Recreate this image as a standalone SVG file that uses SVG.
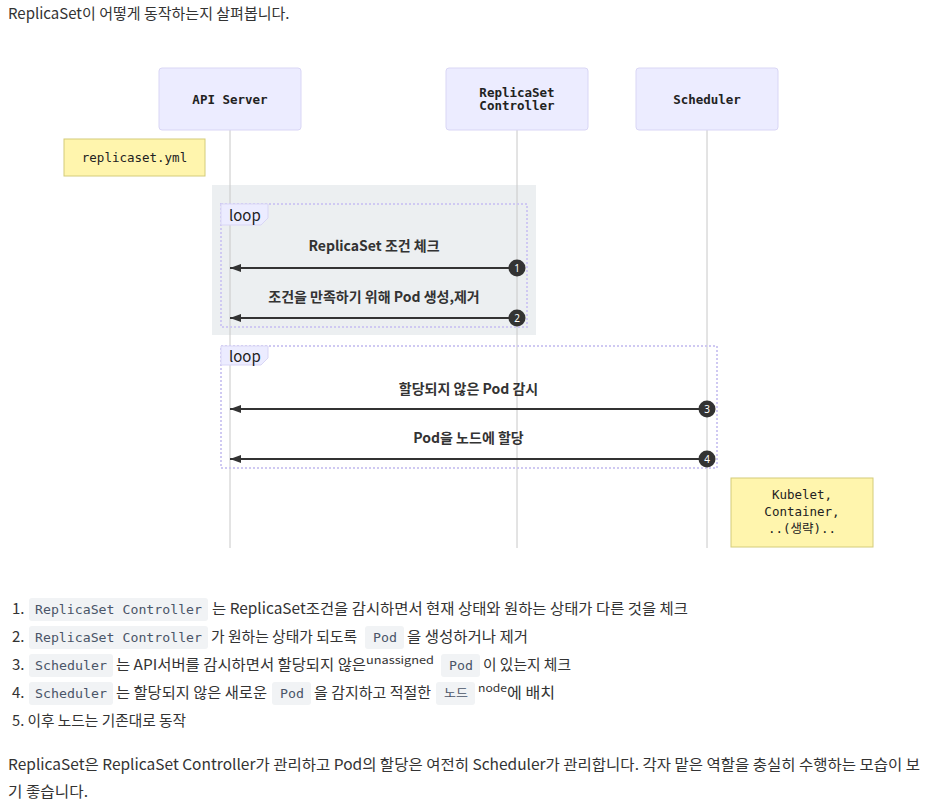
<svg xmlns="http://www.w3.org/2000/svg" width="927" height="807" viewBox="0 0 927 807">
<style>
.body{font-family:"Noto Sans CJK KR","Noto Sans",sans-serif;font-size:15px;fill:#333;}
.sup{font-family:"Noto Sans CJK KR","Noto Sans",sans-serif;font-size:11px;fill:#333;}
.code{font-family:"DejaVu Sans Mono","Noto Sans CJK KR",monospace;font-size:12.5px;fill:#4a5568;}
.cbox{fill:#f1f3f5;}
.actor{fill:#ECECFF;stroke:#d9d6f5;stroke-width:1;}
.atext{font-family:"DejaVu Sans Mono","Liberation Mono",monospace;font-size:12.5px;font-weight:bold;fill:#222;text-anchor:middle;}
.life{stroke:#c8c8c8;stroke-width:1;}
.note{fill:#fff5ad;stroke:#d4cc7a;stroke-width:1;}
.ntext{font-family:"DejaVu Sans Mono","Noto Sans CJK KR",monospace;font-size:12.5px;fill:#222;text-anchor:middle;}
.frame{fill:none;stroke:#cfc9f2;stroke-width:2;stroke-dasharray:2 2;}
.lbl{fill:#ECECFF;stroke:#d9d6f5;stroke-width:1;}
.ltext{font-family:"Noto Sans CJK KR","Noto Sans",sans-serif;font-size:15px;fill:#222;}
.msg{stroke:#333;stroke-width:2;fill:none;}
.mtext{font-family:"Noto Sans CJK KR","Noto Sans",sans-serif;font-size:14px;font-weight:bold;fill:#333;text-anchor:middle;}
.num{fill:#333;}
.ntxt{font-family:"Noto Sans","DejaVu Sans",sans-serif;font-size:10px;fill:#fff;text-anchor:middle;}
</style>
<defs>
<marker id="arr" markerWidth="12" markerHeight="10" refX="11" refY="5" orient="auto" markerUnits="userSpaceOnUse">
<path d="M0,1 L11,5 L0,9 Z" fill="#333"/>
</marker>
</defs>
<rect width="927" height="807" fill="#fff"/>
<text class="body" x="8" y="19">ReplicaSet이 어떻게 동작하는지 살펴봅니다.</text>

<rect x="212" y="185" width="324" height="150" fill="#eceff1"/>

<g id="lifelines">
<line class="life" x1="230" y1="130" x2="230" y2="548"/>
<line class="life" x1="517" y1="130" x2="517" y2="548"/>
<line class="life" x1="707" y1="130" x2="707" y2="548"/>
</g>

<g id="api-server">
<rect class="actor" x="159" y="68" width="142" height="62" rx="3"/>
<text class="atext" x="230" y="104">API Server</text>
</g>
<g id="replicaset-controller">
<rect class="actor" x="446" y="68" width="142" height="62" rx="3"/>
<text class="atext" x="517" y="96.5">ReplicaSet</text>
<text class="atext" x="517" y="110">Controller</text>
</g>
<g id="scheduler">
<rect class="actor" x="636" y="68" width="142" height="62" rx="3"/>
<text class="atext" x="707" y="104">Scheduler</text>
</g>

<g id="note-replicaset">
<rect class="note" x="64" y="139" width="141" height="37"/>
<text class="ntext" x="134.5" y="162">replicaset.yml</text>
</g>

<g id="loop1">
<rect class="frame" x="221" y="204" width="306" height="123"/>
<polygon class="lbl" points="221,204 268,204 268,218 261,225 221,225"/>
<text class="ltext" x="229" y="221">loop</text>
</g>
<g id="loop2">
<rect class="frame" x="221" y="346" width="496" height="122"/>
<polygon class="lbl" points="221,346 268,346 268,358 261,365 221,365"/>
<text class="ltext" x="229" y="362">loop</text>
</g>

<g id="connectors">
<text class="mtext" x="374" y="251">ReplicaSet 조건 체크</text>
<line class="msg" x1="517" y1="268" x2="230" y2="268" marker-end="url(#arr)"/>
<circle class="num" cx="517" cy="268" r="8.5"/>
<text class="ntxt" x="517" y="271.5">1</text>

<text class="mtext" x="374" y="302">조건을 만족하기 위해 Pod 생성,제거</text>
<line class="msg" x1="517" y1="318" x2="230" y2="318" marker-end="url(#arr)"/>
<circle class="num" cx="517" cy="318" r="8.5"/>
<text class="ntxt" x="517" y="321.5">2</text>

<text class="mtext" x="468.5" y="394">할당되지 않은 Pod 감시</text>
<line class="msg" x1="707" y1="409" x2="230" y2="409" marker-end="url(#arr)"/>
<circle class="num" cx="707" cy="409" r="8.5"/>
<text class="ntxt" x="707" y="412.5">3</text>

<text class="mtext" x="468.5" y="443">Pod을 노드에 할당</text>
<line class="msg" x1="707" y1="459" x2="230" y2="459" marker-end="url(#arr)"/>
<circle class="num" cx="707" cy="459" r="8.5"/>
<text class="ntxt" x="707" y="462.5">4</text>
</g>

<g id="note-kubelet">
<rect class="note" x="731" y="478" width="142" height="69"/>
<text class="ntext" x="802" y="499">Kubelet,</text>
<text class="ntext" x="802" y="516">Container,</text>
<text class="ntext" x="802" y="533">..(생략)..</text>
</g>

<g id="list">
<text class="body" x="12" y="614">1.</text>
<rect class="cbox" x="29" y="598" width="179" height="23" rx="3"/>
<text class="code" x="35" y="614" textLength="167" lengthAdjust="spacingAndGlyphs">ReplicaSet Controller</text>
<text class="body" x="212" y="614" textLength="476" lengthAdjust="spacingAndGlyphs">는 ReplicaSet조건을 감시하면서 현재 상태와 원하는 상태가 다른 것을 체크</text>

<text class="body" x="12" y="642">2.</text>
<rect class="cbox" x="29" y="626" width="179" height="23" rx="3"/>
<text class="code" x="35" y="642" textLength="167" lengthAdjust="spacingAndGlyphs">ReplicaSet Controller</text>
<text class="body" x="211" y="642" textLength="146" lengthAdjust="spacingAndGlyphs">가 원하는 상태가 되도록</text>
<rect class="cbox" x="365" y="626" width="39" height="23" rx="3"/>
<text class="code" x="373" y="642" textLength="24" lengthAdjust="spacingAndGlyphs">Pod</text>
<text class="body" x="407" y="642" textLength="121" lengthAdjust="spacingAndGlyphs">을 생성하거나 제거</text>

<text class="body" x="12" y="670">3.</text>
<rect class="cbox" x="29" y="654" width="84" height="23" rx="3"/>
<text class="code" x="35" y="670" textLength="72" lengthAdjust="spacingAndGlyphs">Scheduler</text>
<text class="body" x="116" y="670" textLength="250" lengthAdjust="spacingAndGlyphs">는 API서버를 감시하면서 할당되지 않은</text>
<text class="sup" x="366" y="664" textLength="68" lengthAdjust="spacingAndGlyphs">unassigned</text>
<rect class="cbox" x="441" y="654" width="39" height="23" rx="3"/>
<text class="code" x="449" y="670" textLength="24" lengthAdjust="spacingAndGlyphs">Pod</text>
<text class="body" x="483" y="670" textLength="88" lengthAdjust="spacingAndGlyphs">이 있는지 체크</text>

<text class="body" x="12" y="698">4.</text>
<rect class="cbox" x="29" y="682" width="84" height="23" rx="3"/>
<text class="code" x="35" y="698" textLength="72" lengthAdjust="spacingAndGlyphs">Scheduler</text>
<text class="body" x="116" y="698" textLength="151" lengthAdjust="spacingAndGlyphs">는 할당되지 않은 새로운</text>
<rect class="cbox" x="272" y="682" width="39" height="23" rx="3"/>
<text class="code" x="280" y="698" textLength="24" lengthAdjust="spacingAndGlyphs">Pod</text>
<text class="body" x="314" y="698" textLength="117" lengthAdjust="spacingAndGlyphs">을 감지하고 적절한</text>
<rect class="cbox" x="436" y="682" width="39" height="23" rx="3"/>
<text class="code" x="444" y="698" textLength="24" lengthAdjust="spacingAndGlyphs">노드</text>
<text class="sup" x="478" y="692" textLength="29" lengthAdjust="spacingAndGlyphs">node</text>
<text class="body" x="507" y="698" textLength="48" lengthAdjust="spacingAndGlyphs">에 배치</text>

<text class="body" x="12" y="726" textLength="174" lengthAdjust="spacingAndGlyphs">5. 이후 노드는 기존대로 동작</text>
</g>

<text class="body" x="8" y="770" textLength="912" lengthAdjust="spacingAndGlyphs">ReplicaSet은 ReplicaSet Controller가 관리하고 Pod의 할당은 여전히 Scheduler가 관리합니다. 각자 맡은 역할을 충실히 수행하는 모습이 보</text>
<text class="body" x="8" y="797" textLength="80" lengthAdjust="spacingAndGlyphs">기 좋습니다.</text>
</svg>
